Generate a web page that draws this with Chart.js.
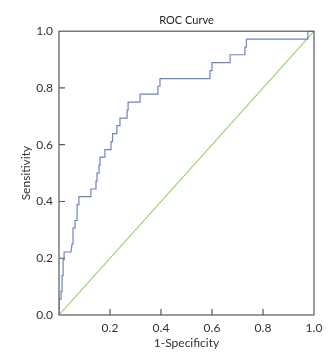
<!DOCTYPE html>
<html>
<head>
<meta charset="utf-8">
<script src="https://cdn.jsdelivr.net/npm/chart.js@4.4.1/dist/chart.umd.min.js"></script>
<style>
    html, body { margin: 0; padding: 0; background: #fff; }
    #wrap { width: 333px; height: 358px; }
</style>
</head>
<body>
<div id="wrap"><canvas id="roc"></canvas></div>
<script>
// ROC curve corners (1-Specificity, Sensitivity)
var rocFpr = [0, 0, 0.008, 0.008, 0.012, 0.012, 0.016, 0.016, 0.02, 0.02,
    0.047, 0.051, 0.055, 0.055, 0.063, 0.063, 0.071, 0.071, 0.078, 0.078,
    0.125, 0.125, 0.145, 0.145, 0.149, 0.149, 0.157, 0.157, 0.161, 0.161,
    0.18, 0.18, 0.204, 0.204, 0.21, 0.21, 0.227, 0.227, 0.239, 0.239,
    0.267, 0.267, 0.271, 0.271, 0.318, 0.318, 0.388, 0.388, 0.396, 0.396,
    0.592, 0.592, 0.6, 0.6, 0.671, 0.671, 0.729, 0.729, 0.735, 0.735,
    0.976, 0.976, 1.0];
var rocTpr = [0, 0.056, 0.056, 0.083, 0.083, 0.139, 0.139, 0.194, 0.194, 0.222,
    0.222, 0.25, 0.25, 0.306, 0.306, 0.333, 0.333, 0.389, 0.389, 0.417,
    0.417, 0.444, 0.444, 0.472, 0.472, 0.5, 0.5, 0.528, 0.528, 0.556,
    0.556, 0.583, 0.583, 0.611, 0.611, 0.639, 0.639, 0.667, 0.667, 0.694,
    0.694, 0.722, 0.722, 0.75, 0.75, 0.778, 0.778, 0.806, 0.806, 0.833,
    0.833, 0.861, 0.861, 0.889, 0.889, 0.917, 0.917, 0.944, 0.944, 0.972,
    0.972, 1.0, 1.0];

// reference diagonal
var refFpr = [0, 1];
var refTpr = [0, 1];

var tickValues = [0, 0.2, 0.4, 0.6, 0.8, 1.0];

function toPoints(xs, ys) {
    var pts = [];
    for (var i = 0; i < xs.length; i++) {
        pts.push({x: xs[i], y: ys[i]});
    }
    return pts;
}

// frame round the plot plus short ticks pointing into it
var frameTicks = {
    id: 'frameTicks',
    afterDatasetsDraw: function (chart) {
        var ctx = chart.ctx;
        var a = chart.chartArea;
        var xs = chart.scales.x;
        var ys = chart.scales.y;
        ctx.save();
        ctx.strokeStyle = '#595959';
        ctx.lineWidth = 1.2;
        ctx.strokeRect(a.left, a.top, a.right - a.left, a.bottom - a.top);
        ctx.beginPath();
        tickValues.forEach(function (v) {
            if (v <= 0 || v >= 1) return;
            var px = xs.getPixelForValue(v);
            ctx.moveTo(px, a.bottom);
            ctx.lineTo(px, a.bottom - 6);
            var py = ys.getPixelForValue(v);
            ctx.moveTo(a.left, py);
            ctx.lineTo(a.left + 6, py);
        });
        ctx.stroke();
        ctx.restore();
    }
};

var labelFont = {family: 'Lato, "Open Sans", sans-serif', size: 12};

new Chart(document.getElementById('roc'), {
    type: 'scatter',
    data: {
        datasets: [{
            label: 'ROC',
            data: toPoints(rocFpr, rocTpr),
            showLine: true,
            borderColor: '#6f82c6',
            borderWidth: 1.2,
            pointRadius: 0,
            tension: 0
        }, {
            label: 'Reference',
            data: toPoints(refFpr, refTpr),
            showLine: true,
            borderColor: '#8fd468',
            borderWidth: 1.1,
            pointRadius: 0
        }]
    },
    options: {
        responsive: true,
        maintainAspectRatio: false,
        animation: false,
        layout: {padding: {left: 0, right: 19, top: 0, bottom: 0}},
        plugins: {
            legend: {display: false},
            tooltip: {enabled: false},
            title: {
                display: true,
                fullSize: false,
                text: 'ROC Curve',
                color: '#222',
                font: {family: 'Lato, "Open Sans", sans-serif', size: 11, weight: 'normal'},
                padding: {top: 14, bottom: 4}
            }
        },
        scales: {
            x: {
                type: 'linear',
                min: 0,
                max: 1,
                afterFit: function (s) { s.height = 43; },
                afterBuildTicks: function (s) {
                    s.ticks = tickValues.map(function (v) { return {value: v}; });
                },
                grid: {display: false, drawTicks: false},
                border: {display: false},
                ticks: {
                    autoSkip: false,
                    maxRotation: 0,
                    padding: 6,
                    color: '#333',
                    font: labelFont,
                    callback: function (v) { return v === 0 ? '' : v.toFixed(1); }
                },
                title: {
                    display: true,
                    text: '1-Specificity',
                    color: '#333',
                    font: labelFont,
                    padding: {top: 0, bottom: 8}
                }
            },
            y: {
                type: 'linear',
                min: 0,
                max: 1,
                afterFit: function (s) { s.width = 59; },
                afterBuildTicks: function (s) {
                    s.ticks = tickValues.map(function (v) { return {value: v}; });
                },
                grid: {display: false, drawTicks: false},
                border: {display: false},
                ticks: {
                    autoSkip: false,
                    padding: 6,
                    color: '#333',
                    font: labelFont,
                    callback: function (v) { return v.toFixed(1); }
                },
                title: {
                    display: true,
                    text: 'Sensitivity',
                    color: '#333',
                    font: labelFont,
                    padding: {top: 19, bottom: 0}
                }
            }
        }
    },
    plugins: [frameTicks]
});
</script>
</body>
</html>
